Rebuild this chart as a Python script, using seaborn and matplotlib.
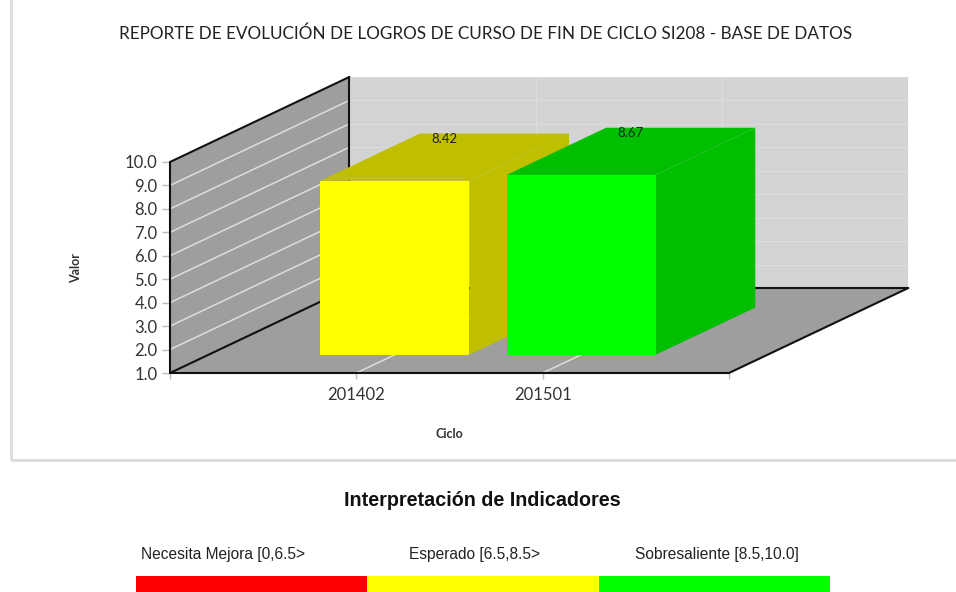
#3D style bar chart built on a normal seaborn bar plot, depth is an oblique shift
import pandas as pd
import matplotlib.pyplot as plt
import seaborn as sns
from matplotlib.patches import Polygon, Rectangle
from matplotlib.transforms import Affine2D

ciclos = ['201402', '201501']
valores = [8.42, 8.67]
colores_frente = ['#ffff00', '#00ff00']
colores_lado = ['#bfbf00', '#00bf00']
ticks_valor = [1, 2, 3, 4, 5, 6, 7, 8, 9, 10]
rangos = ['Necesita Mejora [0,6.5>', 'Esperado [6.5,8.5>', 'Sobresaliente [8.5,10.0]']
colores_rangos = ['#ff0000', '#ffff00', '#00ff00']

BASE = 1.0
W, H = 956, 592
# depth shift of a whole unit of depth, in data units of the front axes
DX = 179 / 186
DY = 85 / 23.44
BAR_D0 = 0.215
BAR_D1 = 0.77
TEXTO = '#333333'

sns.set_style('white')
plt.rcParams['font.family'] = ['Lato', 'DejaVu Sans']


def caja(x0, y0, x1, y1):
    return [x0 / W, 1 - y1 / H, (x1 - x0) / W, (y1 - y0) / H]


def p(x, y, d=0):
    return (x + d * DX, y + d * DY)


fig = plt.figure(figsize=(W / 100, H / 100), dpi=100)
fig.patch.set_facecolor('white')

# outer frame of the chart image
fig.add_artist(Rectangle((11 / W, 1 - 460 / H), 960 / W, 470 / H, transform=fig.transFigure,
                         fill=False, ec='#dcdcdc', lw=2))

ax = fig.add_axes(caja(170, 162, 729, 373))
df = pd.DataFrame({'ciclo': ciclos, 'altura': [v - BASE for v in valores]})
sns.barplot(data=df, x='ciclo', y='altura', hue='ciclo', palette=colores_frente, legend=False,
            width=0.8, bottom=BASE, saturation=1, linewidth=0, ax=ax, zorder=8)
ax.set_xlim(-1, 2)
ax.set_ylim(BASE, 10)
ax.patch.set_alpha(0)
for s in ax.spines.values():
    s.set_visible(False)

x0, x1 = ax.get_xlim()
y1 = ax.get_ylim()[1]

# walls and floor
ax.add_patch(Polygon([p(x0, BASE), p(x0, BASE, 1), p(x0, y1, 1), p(x0, y1)], fc='#9e9e9e', ec='none', zorder=1, clip_on=False))
ax.add_patch(Polygon([p(x0, BASE, 1), p(x1, BASE, 1), p(x1, y1, 1), p(x0, y1, 1)], fc='#d3d3d3', ec='none', zorder=1, clip_on=False))
ax.add_patch(Polygon([p(x0, BASE), p(x1, BASE), p(x1, BASE, 1), p(x0, BASE, 1)], fc='#9e9e9e', ec='none', zorder=1, clip_on=False))

# grid on the walls
for t in ticks_valor[1:]:
    ax.plot(*zip(p(x0, t), p(x0, t, 1)), color='#dddddd', lw=1.1, zorder=2, clip_on=False)
    ax.plot(*zip(p(x0, t, 1), p(x1, t, 1)), color='#dcdcdc', lw=0.8, zorder=2, clip_on=False)
for t in [0, 1]:
    ax.plot(*zip(p(t, BASE), p(t, BASE, 1)), color='#dddddd', lw=1.1, zorder=2, clip_on=False)
    ax.plot(*zip(p(t, BASE, 1), p(t, y1, 1)), color='#dcdcdc', lw=0.8, zorder=2, clip_on=False)

# black edges
for a, b in [(p(x0, BASE), p(x0, y1)), (p(x0, y1), p(x0, y1, 1)), (p(x0, y1, 1), p(x0, BASE, 1)),
             (p(x0, BASE), p(x0, BASE, 1)), (p(x0, BASE), p(x1, BASE)), (p(x1, BASE), p(x1, BASE, 1)),
             (p(x0, BASE, 1), p(x1, BASE, 1))]:
    ax.plot(*zip(a, b), color='#111111', lw=1.5, zorder=3, clip_on=False, solid_capstyle='round')

# bars: the seaborn rectangles are moved back, then side and top faces added
mover = Affine2D().translate(BAR_D0 * DX, BAR_D0 * DY) + ax.transData
for barra, lado, v in zip(ax.patches[:len(valores)], colores_lado, valores):
    barra.set_transform(mover)
    barra.set_clip_on(False)
    bx0 = barra.get_x()
    bx1 = bx0 + barra.get_width()
    ax.add_patch(Polygon([p(bx1, BASE, BAR_D0), p(bx1, BASE, BAR_D1), p(bx1, v, BAR_D1), p(bx1, v, BAR_D0)],
                         fc=lado, ec='none', zorder=6, clip_on=False))
    ax.add_patch(Polygon([p(bx0, v, BAR_D0), p(bx1, v, BAR_D0), p(bx1, v, BAR_D1), p(bx0, v, BAR_D1)],
                         fc=lado, ec='none', zorder=6, clip_on=False))
    cx, cy = p((bx0 + bx1) / 2, v, BAR_D1)
    ax.annotate(f'{v:.2f}', (cx, cy), xytext=(-36, -4), textcoords='offset points', ha='center', va='center',
                fontsize=9.5, color='#222222', zorder=9, annotation_clip=False)

ax.set_yticks(ticks_valor, [f'{t:.1f}' for t in ticks_valor], fontsize=12, color=TEXTO)
ax.set_xticks([0, 1, 2], ciclos + [''], fontsize=12, color=TEXTO)
ax.set_xticks([-1], minor=True)
ax.tick_params(axis='y', length=6, width=1, color='#bbbbbb', pad=3, left=True)
ax.tick_params(axis='x', which='both', length=4, width=1, color='#bbbbbb', pad=6, bottom=True)
ax.set_xlabel('')
ax.set_ylabel('')

fig.text(76 / W, 1 - 268 / H, 'Valor', rotation=90, ha='center', va='center', fontsize=9, fontweight='bold', color=TEXTO)
fig.text(449 / W, 1 - 434 / H, 'Ciclo', ha='center', va='center', fontsize=9, fontweight='bold', color=TEXTO)
fig.text(486 / W, 1 - 34 / H, 'REPORTE DE EVOLUCIÓN DE LOGROS DE CURSO DE FIN DE CICLO SI208 - BASE DE DATOS',
         ha='center', va='center', fontsize=12.35, color='#222222')

# legend of indicators
fig.text(482 / W, 1 - 500 / H, 'Interpretación de Indicadores', ha='center', va='center', fontsize=14.2,
         fontweight='bold', family='Liberation Sans', color='#111111')
for rango, xt in zip(rangos, [223, 475, 717]):
    fig.text(xt / W, 1 - 555 / H, rango, ha='center', va='center', fontsize=11.2, family='Liberation Sans', color='#222222')

ax_rangos = fig.add_axes(caja(136, 576, 830, 592))
sns.barplot(x=rangos, y=[1, 1, 1], hue=rangos, palette=colores_rangos, legend=False, width=1, saturation=1,
            linewidth=0, ax=ax_rangos)
ax_rangos.set_xlim(-0.5, 2.5)
ax_rangos.set_ylim(0, 1)
ax_rangos.axis('off')

fig.savefig('out.png', dpi=100)
